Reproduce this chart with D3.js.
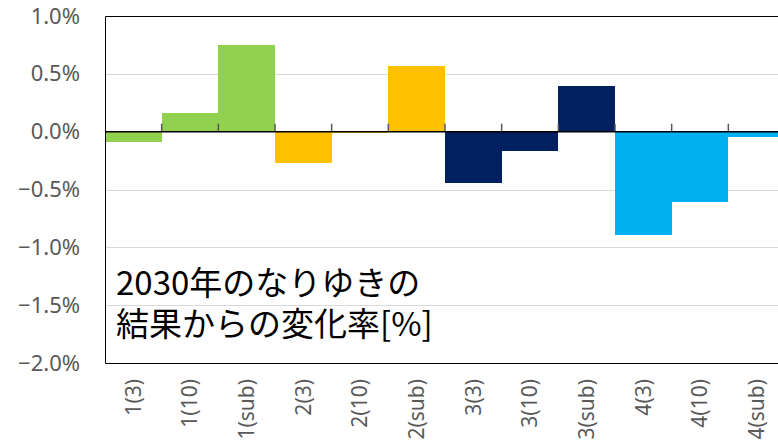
<!DOCTYPE html>
<html>
<head>
<meta charset="utf-8">
<script src="https://cdnjs.cloudflare.com/ajax/libs/d3/7.8.5/d3.min.js"></script>
<style>
  body { margin: 0; background: #fff; }
  svg { display: block; }
</style>
</head>
<body>
<div id="chart"></div>
<script>
// data
var categories = ["1(3)", "1(10)", "1(sub)", "2(3)", "2(10)", "2(sub)",
                  "3(3)", "3(10)", "3(sub)", "4(3)", "4(10)", "4(sub)"];
var values = [-0.09, 0.16, 0.75, -0.27, -0.01, 0.57, -0.44, -0.17, 0.395, -0.89, -0.605, -0.05];
var groups = ["1", "1", "1", "2", "2", "2", "3", "3", "3", "4", "4", "4"];
var groupColors = { "1": "#92D050", "2": "#FFC000", "3": "#002060", "4": "#00B0F0" };
var yTicks = [-2.0, -1.5, -1.0, -0.5, 0.0, 0.5, 1.0];
var noteLines = ["2030年のなりゆきの", "結果からの変化率[%]"];

// dimensions (plot runs past the right edge of the window, as in the original)
var W = 778, H = 447;
var margin = { top: 16, left: 105, bottom: 84 },
    plotRight = 785,
    plotBottom = H - margin.bottom;

var svg = d3.select("#chart")
    .append("svg")
    .attr("width", W)
    .attr("height", H);

var x = d3.scaleBand()
    .domain(categories)
    .range([margin.left, plotRight])
    .padding(0);

var y = d3.scaleLinear()
    .domain([-2, 1])
    .range([plotBottom, margin.top]);

var data = categories.map(function (c, i) {
    return { cat: c, value: values[i], group: groups[i] };
});

// gridlines
svg.append("g")
    .selectAll("line")
    .data(yTicks.filter(function (d) { return d !== 0 && d !== 1 && d !== -2; }))
    .enter().append("line")
    .attr("x1", margin.left)
    .attr("x2", plotRight)
    .attr("y1", function (d) { return Math.round(y(d)) + 0.5; })
    .attr("y2", function (d) { return Math.round(y(d)) + 0.5; })
    .style("stroke", "#d9d9d9")
    .style("stroke-width", 1);

// annotation text
var note = svg.append("text")
    .attr("x", 116)
    .attr("y", 295)
    .style("font-family", "'Noto Sans CJK JP', 'Noto Sans', sans-serif")
    .style("font-size", "33px")
    .style("fill", "#000");
note.selectAll("tspan")
    .data(noteLines)
    .enter().append("tspan")
    .attr("x", 116)
    .attr("dy", function (d, i) { return i === 0 ? 0 : 41; })
    .text(function (d) { return d; });

// bars
svg.append("g")
    .selectAll(".bar")
    .data(data)
    .enter().append("rect")
    .attr("class", "bar")
    .attr("x", function (d) { return x(d.cat); })
    .attr("width", x.bandwidth())
    .attr("y", function (d) { return y(Math.max(0, d.value)); })
    .attr("height", function (d) { return Math.abs(y(d.value) - y(0)); })
    .style("fill", function (d) { return groupColors[d.group]; })
    .attr("shape-rendering", "crispEdges");

// plot border (left, top, bottom)
svg.append("path")
    .attr("d", "M" + plotRight + "," + (margin.top + 0.5) +
               "H" + (margin.left + 0.5) +
               "V" + (plotBottom + 0.5) +
               "H" + plotRight)
    .style("fill", "none")
    .style("stroke", "#000")
    .style("stroke-width", 1);

// category ticks pointing up from zero line
svg.append("g")
    .selectAll("line")
    .data(categories.slice(1))
    .enter().append("line")
    .attr("x1", function (d) { return x(d); })
    .attr("x2", function (d) { return x(d); })
    .attr("y1", y(0) - 8)
    .attr("y2", y(0))
    .style("stroke", "#595959")
    .style("stroke-width", 1.5);

// zero line
svg.append("line")
    .attr("x1", margin.left)
    .attr("x2", plotRight)
    .attr("y1", y(0))
    .attr("y2", y(0))
    .style("stroke", "#000")
    .style("stroke-width", 1.5);

// y axis labels
var yAxis = svg.append("g")
    .attr("transform", "translate(" + 80 + ",0)")
    .call(d3.axisLeft(y)
        .tickValues(yTicks)
        .tickSize(0)
        .tickPadding(0)
        .tickFormat(function (d) { return d3.format(".1f")(d) + "%"; }));
yAxis.select(".domain").remove();
yAxis.selectAll("text")
    .style("font-family", "'Noto Sans', sans-serif")
    .style("font-size", "22px")
    .style("fill", "#595959");

// x axis labels, rotated
svg.append("g")
    .selectAll("text")
    .data(categories)
    .enter().append("text")
    .attr("transform", function (d) {
        return "translate(" + (x(d) + x.bandwidth() / 2) + "," + 379 + ") rotate(-90)";
    })
    .attr("dy", "0.35em")
    .style("text-anchor", "end")
    .style("font-family", "'Noto Sans', sans-serif")
    .style("font-size", "21px")
    .style("fill", "#595959")
    .text(function (d) { return d; });
</script>
</body>
</html>
